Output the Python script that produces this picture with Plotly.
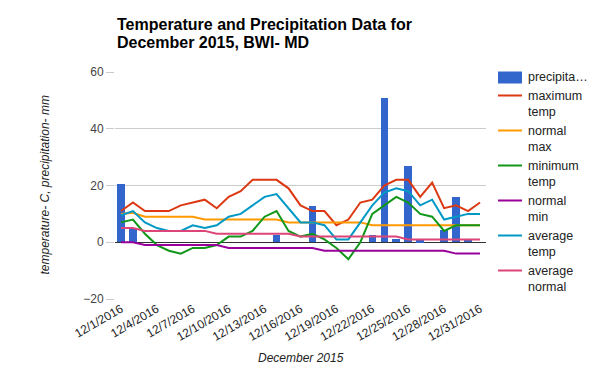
import plotly.graph_objects as go

# ---------------- data ----------------
days = ["12/1/2016", "12/2/2016", "12/3/2016", "12/4/2016", "12/5/2016", "12/6/2016",
        "12/7/2016", "12/8/2016", "12/9/2016", "12/10/2016", "12/11/2016", "12/12/2016",
        "12/13/2016", "12/14/2016", "12/15/2016", "12/16/2016", "12/17/2016", "12/18/2016",
        "12/19/2016", "12/20/2016", "12/21/2016", "12/22/2016", "12/23/2016", "12/24/2016",
        "12/25/2016", "12/26/2016", "12/27/2016", "12/28/2016", "12/29/2016", "12/30/2016",
        "12/31/2016"]
tick_labels = ["12/1/2016", "12/4/2016", "12/7/2016", "12/10/2016", "12/13/2016",
               "12/16/2016", "12/19/2016", "12/22/2016", "12/25/2016", "12/28/2016",
               "12/31/2016"]

precipitation = [20.5, 5, 0, 0, 0, 0, 0, 0, 0, 0, 0, 0, 0, 2.5, 0, 0, 12.7, 0, 0, 0, 0,
                 2.5, 51, 1.1, 27, 0.7, 0, 4.3, 16.1, 0.8, 0]
maximum_temp = [11, 14, 11, 11, 11, 13, 14, 15, 12, 16, 18, 22, 22, 22, 19, 13, 11, 11, 6, 8,
                14, 15, 20, 22, 22, 16, 21, 12, 13, 11, 14]
normal_max = [10, 10.4, 9, 9, 9, 9, 9, 8, 8, 8, 8, 8, 8, 8, 7, 7, 7, 7, 7, 7, 7,
              6, 6, 6, 6, 6, 6, 6, 6, 6, 6]
minimum_temp = [7, 8, 3, -1, -3, -4, -2, -2, -1, 2, 2, 4, 9, 11, 4, 2, 3, 1, -2, -6, 0,
                10, 13, 16, 14, 10, 9, 4, 6, 6, 6]
normal_min = [0, 0, -1, -1, -1, -1, -1, -1, -1, -2, -2, -2, -2, -2, -2, -2, -2, -3, -3, -3,
              -3, -3, -3, -3, -3, -3, -3, -3, -4, -4, -4]
average_temp = [9.5, 11, 7, 5, 4, 4, 6, 5, 6, 9, 10, 13, 16, 17, 12, 7, 7, 6, 1, 1, 7,
                13, 17.5, 19, 18, 13, 15, 8, 9, 10, 10]
average_normal = [5, 5, 4, 4, 4, 4, 4, 4, 3, 3, 3, 3, 3, 3, 3, 2, 2, 2, 2, 2, 2, 2, 2, 2,
                  1, 1, 1, 1, 1, 1, 1]

bar_name = "precipita…"
bar_color = "#3366cc"
line_series = [
    (["maximum", "temp"], maximum_temp, "#dc3912"),
    (["normal", "max"], normal_max, "#ff9900"),
    (["minimum", "temp"], minimum_temp, "#109618"),
    (["normal", "min"], normal_min, "#990099"),
    (["average", "temp"], average_temp, "#0099c6"),
    (["average", "normal"], average_normal, "#dd4477"),
]

# ---------------- figure ----------------
W, H = 600, 371
L, R, T, B = 115, 114, 72, 72
plot_h = H - T - B
plot_w = W - L - R


def py(p):
    """pixel y -> paper y"""
    return 1 + (T - p) / plot_h


def px(p):
    """pixel x -> paper x"""
    return (p - L) / plot_w


fig = go.Figure()
fig.add_trace(go.Bar(x=days, y=precipitation, name=bar_name,
                     marker=dict(color=bar_color, line=dict(width=0)), width=0.63))
for name, vals, color in line_series:
    fig.add_trace(go.Scatter(x=days, y=vals, mode="lines", name=" ".join(name),
                             line=dict(color=color, width=2)))

font_family = "Arial, Liberation Sans, sans-serif"

annotations = [
    dict(text="<b>Temperature and Precipitation Data for</b>", xref="paper", yref="paper",
         x=0, y=py(25), xanchor="left", yanchor="middle", showarrow=False,
         font=dict(size=16, color="#000000")),
    dict(text="<b>December 2015, BWI- MD</b>", xref="paper", yref="paper",
         x=0, y=py(42), xanchor="left", yanchor="middle", showarrow=False,
         font=dict(size=16, color="#000000")),
    dict(text="<i>temperature- C, precipitation- mm</i>", xref="paper", yref="paper",
         x=px(44), y=0.5, xanchor="center", yanchor="middle", textangle=-90,
         showarrow=False, font=dict(size=12, color="#222222")),
    dict(text="<i>December 2015</i>", xref="paper", yref="paper",
         x=0.5, y=py(358), xanchor="center", yanchor="middle",
         showarrow=False, font=dict(size=12, color="#222222")),
]
shapes = []

# ----- legend drawn by hand (Google-Charts style) -----
LEG_SYM_X0, LEG_SYM_X1, LEG_TEXT_X = 498, 522, 526
legend_font = dict(size=12.5, color="#222222", family=font_family)
first_y = 77.5
item_step = 35
line_step = 16.8

shapes.append(dict(type="rect", xref="paper", yref="paper",
                   x0=px(LEG_SYM_X0), x1=px(LEG_SYM_X1),
                   y0=py(first_y - 6), y1=py(first_y + 6),
                   fillcolor=bar_color, line=dict(width=0)))
annotations.append(dict(text=bar_name, xref="paper", yref="paper", x=px(LEG_TEXT_X),
                        y=py(first_y), xanchor="left", yanchor="middle",
                        showarrow=False, font=legend_font))
for i, (name, vals, color) in enumerate(line_series):
    yc = first_y + 18 + i * item_step
    shapes.append(dict(type="line", xref="paper", yref="paper",
                       x0=px(LEG_SYM_X0), x1=px(LEG_SYM_X1), y0=py(yc), y1=py(yc),
                       line=dict(color=color, width=2)))
    for j, part in enumerate(name):
        annotations.append(dict(text=part, xref="paper", yref="paper", x=px(LEG_TEXT_X),
                                y=py(yc + j * line_step), xanchor="left",
                                yanchor="middle", showarrow=False, font=legend_font))

fig.update_layout(
    width=W, height=H,
    margin=dict(l=L, r=R, t=T, b=B, autoexpand=False),
    paper_bgcolor="white", plot_bgcolor="white",
    font=dict(family=font_family, size=12, color="#222222"),
    showlegend=False,
    xaxis=dict(type="category", tickmode="array", tickvals=tick_labels,
               ticktext=tick_labels, tickangle=-30, range=[-0.5, 30.5],
               showgrid=False, showline=False, zeroline=False, ticks="",
               tickfont=dict(size=12, color="#222222")),
    yaxis=dict(range=[-20, 60], tickmode="array", tickvals=[-20, 0, 20, 40, 60],
               gridcolor="#cccccc", gridwidth=1, zeroline=True,
               zerolinecolor="#333333", zerolinewidth=1, showline=False,
               ticks="outside", ticklen=8, tickcolor="#cccccc", tickwidth=1,
               tickfont=dict(size=12, color="#444444")),
    bargap=0,
    annotations=annotations,
    shapes=shapes,
)

fig.write_html("out.html", config={"displayModeBar": False},
               post_script="document.body.style.margin='0';document.body.style.padding='0';"
                           "document.body.style.overflow='hidden';")
